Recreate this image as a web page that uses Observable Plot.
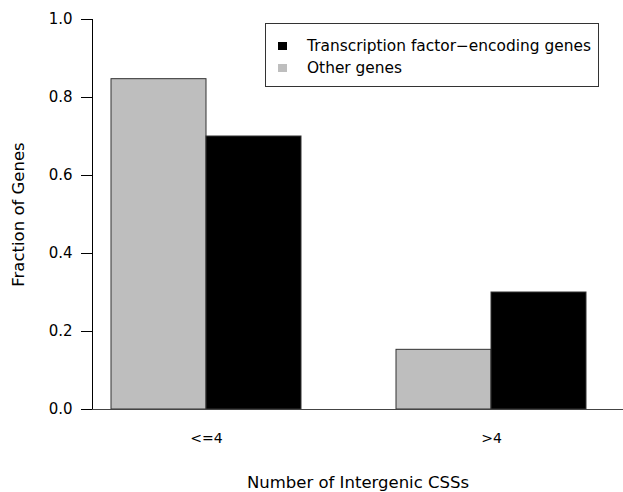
<!DOCTYPE html>
<html>
<head>
<meta charset="utf-8">
<script src="https://cdn.jsdelivr.net/npm/d3@7"></script>
<script src="https://cdn.jsdelivr.net/npm/@observablehq/plot@0.6"></script>
<style>
  body { margin: 0; background: #fff; font-family: "DejaVu Sans", sans-serif; }
  #wrap { position: relative; width: 623px; height: 492px; }
  #legend { position: absolute; left: 265px; top: 23px; width: 334px; height: 64px;
            border: 1px solid #333; box-sizing: border-box; background: #fff;
            font-size: 15.4px; color: #000; }
  .item { position: absolute; left: 0; right: 0; height: 20px; }
  .sw { position: absolute; left: 12px; top: 6px; width: 9px; height: 8px; }
  .lab { position: absolute; left: 41px; top: 0; line-height: 20px; white-space: nowrap; }
</style>
</head>
<body>
<div id="wrap"></div>
<script>
// ---- data ----
const categories = ["<=4", ">4"];
const seriesNames = ["Transcription factor\u2212encoding genes", "Other genes"];
const seriesColors = ["#000000", "#bebebe"];
const tfValues = [0.70, 0.30];
const otherValues = [0.847, 0.153];
const yTicks = [0, 0.2, 0.4, 0.6, 0.8, 1.0];
const xTitle = "Number of Intergenic CSSs";
const yTitle = "Fraction of Genes";

// R barplot(beside=TRUE) layout: each group = 2 bars, 1 bar-width gap before it
const rows = [];
categories.forEach((c, i) => {
  rows.push({category: c, series: seriesNames[1], value: otherValues[i], slot: 3 * i + 1});
  rows.push({category: c, series: seriesNames[0], value: tfValues[i], slot: 3 * i + 2});
});
const xDomain = [0.8, 6.2];

const chart = Plot.plot({
  width: 623, height: 492,
  marginLeft: 92, marginRight: 18, marginTop: 3.4, marginBottom: 67.4,
  style: {fontFamily: "DejaVu Sans, sans-serif", background: "#fff", color: "#000"},
  x: {domain: xDomain, axis: null},
  y: {domain: [-0.04, 1.04], axis: null},
  color: {domain: seriesNames, range: seriesColors},
  marks: [
    Plot.rectY(rows, {x1: "slot", x2: d => d.slot + 1, y1: 0, y2: "value",
                      fill: "series", stroke: "#333", strokeWidth: 1}),
    Plot.ruleY([0], {insetLeft: -10, insetRight: -18, stroke: "#444"}),
    Plot.ruleX([xDomain[0]], {y1: yTicks[0], y2: yTicks[yTicks.length - 1], stroke: "#000"}),
    Plot.axisY(yTicks, {tickSize: 11, tickPadding: 9, tickFormat: d3.format(".1f"),
                        fontSize: 15, label: null}),
    Plot.text(categories, {x: (d, i) => 3 * i + 2, frameAnchor: "bottom", lineAnchor: "middle",
                           textAnchor: "middle", dy: 13, fontSize: 14}),
    Plot.text([xTitle], {frameAnchor: "bottom", lineAnchor: "middle", textAnchor: "middle",
                         dy: 57.5, dx: 9, fontSize: 16.5}),
    Plot.text([yTitle], {frameAnchor: "left", lineAnchor: "middle", textAnchor: "middle",
                         rotate: -90, dx: -74, fontSize: 16.5})
  ]
});

const wrap = document.getElementById("wrap");
wrap.appendChild(chart);

const legend = document.createElement("div");
legend.id = "legend";
seriesNames.forEach((name, i) => {
  const item = document.createElement("div");
  item.className = "item";
  item.style.top = (12 + i * 21.5) + "px";
  const sw = document.createElement("div");
  sw.className = "sw";
  sw.style.background = seriesColors[i];
  const lab = document.createElement("div");
  lab.className = "lab";
  lab.textContent = name;
  item.appendChild(sw);
  item.appendChild(lab);
  legend.appendChild(item);
});
wrap.appendChild(legend);
</script>
</body>
</html>
